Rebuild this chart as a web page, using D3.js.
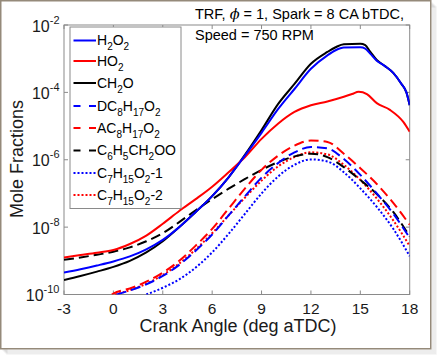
<!DOCTYPE html>
<html><head><meta charset="utf-8">
<script src="https://cdn.jsdelivr.net/npm/d3@7/dist/d3.min.js"></script>
<style>
html,body{margin:0;padding:0;background:#fff;}
svg{display:block;font-family:Arial,"Liberation Sans",sans-serif;}
</style></head>
<body>
<svg id="c" width="438" height="356"></svg>
<script>
// ---- data (log10 of mole fraction) ----
const xTicks = [-3, 0, 3, 6, 9, 12, 15, 18];
const yTickExps = [-10, -8, -6, -4, -2];

const h2o2X = [-3,-2,-1,0,1,2,3,4,5,6,7,8,9,10,11,12,13,13.5,14,15,15.3,15.6,16,16.5,17,17.5,17.8,18];
const h2o2Log = [-9.35,-9.25,-9.14,-9.02,-8.87,-8.66,-8.38,-8.0,-7.55,-7.08,-6.52,-5.87,-5.2,-4.5,-3.9,-3.3,-2.9,-2.75,-2.67,-2.66,-2.7,-2.85,-3.06,-3.22,-3.42,-3.75,-4.0,-4.38];

const ho2X = [-3,-2,-1,0,1,2,3,4,5,6,7,8,9,10,11,12,13,14,14.5,14.9,15.4,16,16.8,17.6,18];
const ho2Log = [-8.9,-8.83,-8.76,-8.68,-8.5,-8.25,-7.9,-7.52,-7.17,-6.8,-6.37,-5.92,-5.38,-4.93,-4.58,-4.38,-4.27,-4.13,-4.05,-3.98,-4.05,-4.32,-4.52,-4.87,-5.17];

const ch2oX = [-3,-2,-1,0,1,2,3,4,5,6,7,8,9,10,11,12,13,13.5,14,15,15.3,15.6,16,16.5,17,17.5,17.8,18];
const ch2oLog = [-9.57,-9.45,-9.32,-9.18,-9.0,-8.75,-8.42,-8.0,-7.55,-7.08,-6.52,-5.85,-5.12,-4.35,-3.75,-3.15,-2.8,-2.66,-2.57,-2.56,-2.6,-2.79,-3.04,-3.22,-3.42,-3.75,-4.0,-4.38];

const dcX = [0.2,1,2,3,4,5,6,7,8,9,10,11,12,13,14,15,16,17,18];
const dcLog = [-10,-9.88,-9.7,-9.45,-9.12,-8.7,-8.22,-7.65,-7.08,-6.53,-6.1,-5.78,-5.62,-5.66,-5.98,-6.45,-7.0,-7.6,-8.32];

const acX = [-0.1,0,1,2,3,4,5,6,7,8,9,10,11,12,13,14,15,16,17,18];
const acLog = [-10,-9.97,-9.82,-9.62,-9.35,-9.0,-8.55,-8.05,-7.45,-6.85,-6.3,-5.88,-5.58,-5.43,-5.47,-5.82,-6.25,-6.72,-7.28,-7.93];

const c6X = [-3,-2,-1,0,1,2,3,4,5,6,7,8,9,10,11,12,13,14,15,16,17,18];
const c6Log = [-8.97,-8.9,-8.82,-8.73,-8.6,-8.42,-8.18,-7.85,-7.5,-7.17,-6.86,-6.57,-6.3,-6.07,-5.9,-5.82,-5.92,-6.22,-6.6,-7.02,-7.55,-8.28];

const c7aX = [2,3,4,5,6,7,8,9,10,11,12,13,14,15,16,17,18];
const c7aLog = [-10,-9.8,-9.55,-9.2,-8.75,-8.2,-7.6,-7.0,-6.5,-6.15,-5.99,-6.05,-6.37,-6.85,-7.4,-8.05,-8.86];

const c7bX = [0.1,1,2,3,4,5,6,7,8,9,10,11,12,13,14,15,16,17,18];
const c7bLog = [-10,-9.87,-9.68,-9.42,-9.08,-8.66,-8.18,-7.65,-7.12,-6.62,-6.2,-5.92,-5.78,-5.84,-6.15,-6.6,-7.15,-7.8,-8.56];

const seriesNames = ["H2O2","HO2","CH2O","DC8H17O2","AC8H17O2","C6H5CH2OO","C7H15O2-1","C7H15O2-2"];

// ---- build ----
const series = [
  {x:h2o2X, y:h2o2Log, color:"#0000ff", dash:null,   label:[["H"],["2",1],["O"],["2",1]]},
  {x:ho2X,  y:ho2Log,  color:"#ff0000", dash:null,   label:[["HO"],["2",1]]},
  {x:ch2oX, y:ch2oLog, color:"#000000", dash:null,   label:[["CH"],["2",1],["O"]]},
  {x:dcX,   y:dcLog,   color:"#0000ff", dash:"10,5", label:[["DC"],["8",1],["H"],["17",1],["O"],["2",1]]},
  {x:acX,   y:acLog,   color:"#ff0000", dash:"10,5", label:[["AC"],["8",1],["H"],["17",1],["O"],["2",1]]},
  {x:c6X,   y:c6Log,   color:"#000000", dash:"10,5", label:[["C"],["6",1],["H"],["5",1],["CH"],["2",1],["OO"]]},
  {x:c7aX,  y:c7aLog,  color:"#0000ff", dash:"2,2",  label:[["C"],["7",1],["H"],["15",1],["O"],["2",1],["-1"]]},
  {x:c7bX,  y:c7bLog,  color:"#ff0000", dash:"2,2",  label:[["C"],["7",1],["H"],["15",1],["O"],["2",1],["-2"]]}
];

const svg = d3.select("#c");
const L = 64, R = 409.7, T = 25, B = 294.5;
const x = d3.scaleLinear().domain([-3, 18]).range([L, R]);
const y = d3.scaleLog().domain([1e-10, 1e-2]).range([B, T]);

// card frame with shadow
for (let i = 5; i >= 1; i--) {
  svg.append("rect").attr("x", 2 + i).attr("y", 2 + i).attr("width", 429).attr("height", 347)
    .attr("fill", "none").attr("stroke", "#000").attr("stroke-opacity", 0.05).attr("stroke-width", 1.5);
}
svg.append("rect").attr("x", 0.75).attr("y", 0.75).attr("width", 430).attr("height", 348)
  .attr("fill", "#fff").attr("stroke", "#958a7a").attr("stroke-width", 1.5);

svg.append("defs").append("clipPath").attr("id", "clip")
  .append("rect").attr("x", L).attr("y", T).attr("width", R - L).attr("height", B - T);

// axis box
svg.append("rect").attr("x", L).attr("y", T).attr("width", R - L).attr("height", B - T)
  .attr("fill", "#fff").attr("stroke", "#8a8a8a").attr("stroke-width", 1);

const tickG = svg.append("g").attr("stroke", "#8a8a8a").attr("stroke-width", 1);
xTicks.forEach(t => {
  tickG.append("line").attr("x1", x(t)).attr("x2", x(t)).attr("y1", B).attr("y2", B - 4);
  tickG.append("line").attr("x1", x(t)).attr("x2", x(t)).attr("y1", T).attr("y2", T + 4);
});
yTickExps.forEach(e => {
  const v = Math.pow(10, e);
  tickG.append("line").attr("x1", L).attr("x2", L + 4).attr("y1", y(v)).attr("y2", y(v));
  tickG.append("line").attr("x1", R).attr("x2", R - 4).attr("y1", y(v)).attr("y2", y(v));
});

// tick labels
svg.append("g").selectAll("text").data(xTicks).join("text")
  .attr("x", d => x(d)).attr("y", 314).attr("text-anchor", "middle")
  .attr("font-size", 15.5).attr("fill", "#1a1a1a").text(d => d);

yTickExps.forEach(e => {
  const t = svg.append("text").attr("x", 59.5).attr("y", y(Math.pow(10, e)) + 6.5)
    .attr("text-anchor", "end").attr("fill", "#1a1a1a").attr("font-size", 16);
  t.append("tspan").text("10");
  t.append("tspan").attr("font-size", 11).attr("dy", -8).text(String(e));
});

// axis titles
svg.append("text").attr("x", 238).attr("y", 332).attr("text-anchor", "middle")
  .attr("font-size", 18).attr("fill", "#1a1a1a").text("Crank Angle (deg aTDC)");
svg.append("text").attr("transform", "translate(23,159) rotate(-90)").attr("text-anchor", "middle")
  .attr("font-size", 18).attr("fill", "#1a1a1a").text("Mole Fractions");

// annotation
const ann = svg.append("text").attr("x", 195).attr("y", 18.5).attr("font-size", 14.5).attr("fill", "#000");
ann.append("tspan").text("TRF, ");
ann.append("tspan").attr("font-style", "italic").attr("font-family", "'DejaVu Serif',serif").text("ϕ");
ann.append("tspan").text(" = 1, Spark = 8 CA bTDC,");
svg.append("text").attr("x", 195).attr("y", 39.5).attr("font-size", 14.5).attr("fill", "#000").text("Speed = 750 RPM");

// lines
const line = d3.line().x(d => x(d[0])).y(d => y(Math.pow(10, d[1]))).curve(d3.curveMonotoneX);
const plotG = svg.append("g").attr("clip-path", "url(#clip)");
series.slice().reverse().forEach(s => {
  const pts = s.x.map((v, i) => [v, s.y[i]]);
  plotG.append("path").attr("d", line(pts)).attr("fill", "none")
    .attr("stroke", s.color).attr("stroke-width", 2)
    .attr("stroke-dasharray", s.dash);
});

// legend
const leg = svg.append("g");
leg.append("rect").attr("x", 70).attr("y", 27).attr("width", 111).attr("height", 181.5)
  .attr("fill", "#fff").attr("stroke", "#8a8a8a").attr("stroke-width", 1);
const baselines = [45, 65.5, 87.5, 110.5, 132.5, 155, 177.5, 199.5];
series.forEach((s, i) => {
  const by = baselines[i];
  leg.append("line").attr("x1", 73.5).attr("x2", 96).attr("y1", by - 4.5).attr("y2", by - 4.5)
    .attr("stroke", s.color).attr("stroke-width", 2)
    .attr("stroke-dasharray", s.dash === "10,5" ? "7,8.5" : s.dash);
  const t = leg.append("text").attr("x", 97).attr("y", by).attr("font-size", 14).attr("fill", "#000");
  let prevSub = false;
  s.label.forEach(seg => {
    const sub = !!seg[1];
    const ts = t.append("tspan").text(seg[0]);
    if (sub && !prevSub) ts.attr("dy", 5).attr("font-size", 10);
    else if (sub) ts.attr("font-size", 10);
    else if (!sub && prevSub) ts.attr("dy", -5);
    prevSub = sub;
  });
});
</script>
</body></html>
